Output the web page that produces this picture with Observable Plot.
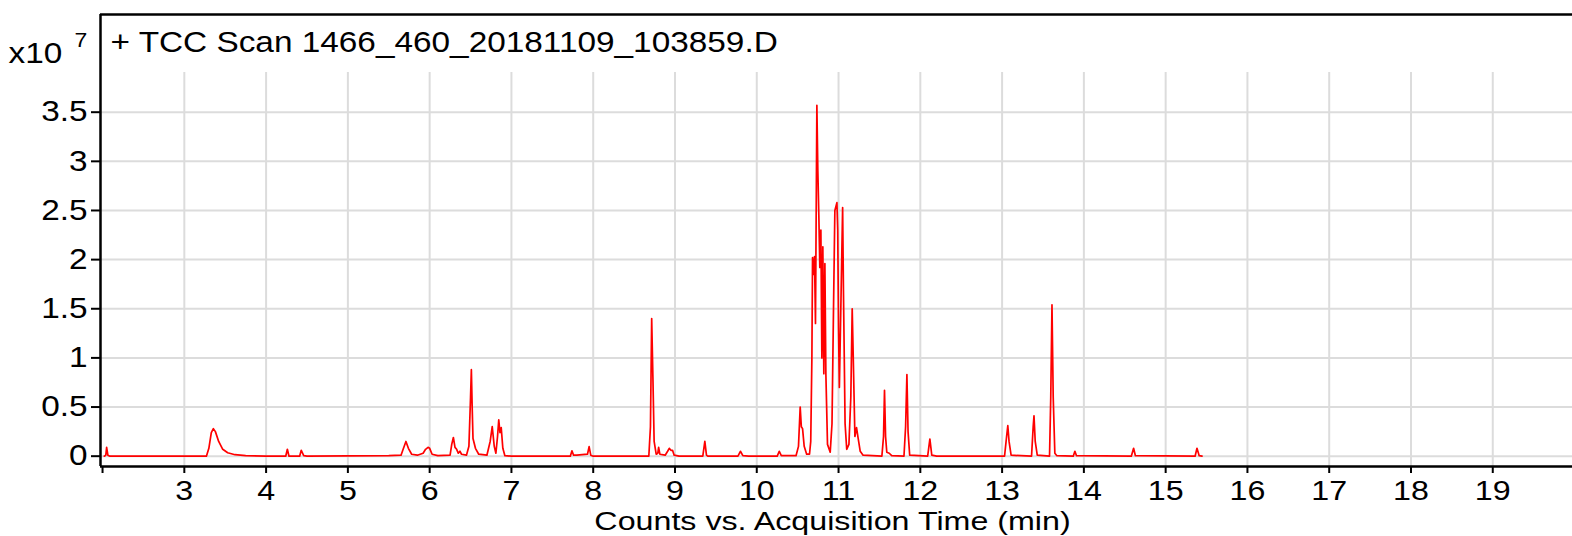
<!DOCTYPE html>
<html><head><meta charset="utf-8">
<script src="https://cdn.jsdelivr.net/npm/d3@7"></script>
<script src="https://cdn.jsdelivr.net/npm/@observablehq/plot@0.6"></script>
<style>
html,body{margin:0;padding:0;background:#fff;overflow:hidden;}
#chart{width:1572px;height:536px;overflow:hidden;}
#chart svg{max-width:none !important;}
</style></head><body><div id="chart"></div>
<script>
const title = "+ TCC Scan 1466_460_20181109_103859.D";
const yScaleLabel = "x10";
const yScaleExp = "7";
const xLabel = "Counts vs. Acquisition Time (min)";
const xTicks = [2,3,4,5,6,7,8,9,10,11,12,13,14,15,16,17,18,19];
const yTicks = [0,0.5,1,1.5,2,2.5,3,3.5];
const xDomain = [1.975, 19.975];
const yDomain = [-0.105, 4.494];

// retention time (min)
const time = [
 2.02,2.04,2.05,2.065,2.09,
 3.27,3.30,3.33,3.355,3.38,3.42,3.47,3.53,3.62,3.75,4.0,
 4.24,4.26,4.28,4.41,4.43,4.46,4.5,
 5.5,5.65,5.68,5.71,5.74,5.78,5.85,5.92,5.95,5.98,6.0,6.03,6.1,
 6.25,6.27,6.29,6.31,6.33,6.35,6.37,6.39,6.45,6.48,6.50,6.51,6.52,6.53,6.56,6.6,
 6.7,6.74,6.765,6.79,6.81,6.83,6.845,6.86,6.875,6.895,6.92,7.0,
 7.72,7.74,7.76,7.8,7.93,7.95,7.97,8.0,
 8.68,8.70,8.715,8.73,8.745,8.77,8.79,8.80,8.815,8.88,8.91,8.93,8.95,8.97,8.99,9.05,
 9.34,9.365,9.385,9.4,9.77,9.8,9.83,9.9,10.25,10.275,10.3,
 10.48,10.51,10.531,10.545,10.56,10.58,10.61,10.645,10.66,10.674,10.682,10.694,10.706,10.718,
 10.735,10.747,10.759,10.771,10.784,10.796,10.808,10.820,10.833,10.845,10.865,10.898,
 10.92,10.94,10.955,10.98,10.99,11.0,11.01,11.03,11.05,11.06,11.08,11.10,11.127,11.15,11.167,
 11.18,11.2,11.22,11.24,11.265,11.3,
 11.53,11.55,11.562,11.575,11.59,11.62,11.65,
 11.80,11.82,11.836,11.85,11.87,
 12.09,12.117,12.14,12.2,
 13.03,13.055,13.07,13.085,13.11,
 13.36,13.38,13.39,13.405,13.43,
 13.58,13.595,13.61,13.625,13.645,13.67,
 13.87,13.89,13.91,
 14.58,14.608,14.63,
 15.36,15.383,15.41,15.445
];
// counts (x10^7)
const counts = [
 0,0.01,0.09,0.01,0,
 0,0.08,0.24,0.28,0.25,0.15,0.07,0.035,0.015,0.005,0,
 0,0.07,0,0,0.06,0.005,0,
 0.005,0.01,0.08,0.15,0.08,0.02,0.01,0.03,0.07,0.09,0.08,0.02,0.005,
 0.01,0.12,0.19,0.09,0.07,0.03,0.05,0.02,0.01,0.1,0.6,0.88,0.5,0.18,0.08,0.02,
 0.01,0.15,0.30,0.1,0.03,0.2,0.37,0.24,0.29,0.08,0.005,0,
 0,0.055,0.01,0.01,0.02,0.097,0.01,0,
 0,0.3,1.4,0.8,0.15,0.02,0.03,0.09,0.02,0.01,0.05,0.08,0.06,0.06,0.01,0,
 0,0.15,0.01,0,0,0.05,0.005,0,0,0.05,0.005,
 0.005,0.1,0.5,0.3,0.28,0.1,0.02,0.02,0.15,1.0,2.02,1.85,2.03,1.35,
 3.57,2.9,2.45,1.92,2.30,1.0,2.13,0.84,1.96,0.84,0.12,0.04,
 0.33,1.6,2.5,2.58,2.3,1.3,0.7,1.6,2.53,1.68,0.33,0.07,0.12,0.6,1.5,
 1.0,0.2,0.29,0.18,0.05,0.01,
 0,0.2,0.67,0.2,0.04,0.03,0.005,
 0,0.3,0.83,0.25,0.01,
 0,0.175,0.01,0,
 0,0.2,0.31,0.15,0.01,
 0,0.3,0.41,0.15,0.01,
 0,0.6,1.54,0.6,0.03,0.005,
 0,0.05,0.005,
 0,0.08,0.005,
 0,0.08,0.005,0
];

const data = time.map((t, i) => ({t, c: counts[i]}));
const gridX = xTicks.filter(d => d > 2);

const plot = Plot.plot({
  width: 1572, height: 536,
  marginLeft: 100, marginRight: 0, marginTop: 14, marginBottom: 70,
  style: {fontFamily: "'Liberation Sans', Arial, sans-serif", fontSize: "29px", color: "#000", background: "#fff", overflow: "visible", maxWidth: "none"},
  x: {domain: xDomain},
  y: {domain: yDomain},
  marks: [
    Plot.ruleY(yTicks, {stroke: "#dcdcdc", strokeWidth: 2}),
    Plot.ruleX(gridX, {stroke: "#dcdcdc", strokeWidth: 2, insetTop: 58}),
    Plot.line(data, {x: "t", y: "c", stroke: "#ff0000", strokeWidth: 1.7}),
    // open frame: left, top and bottom edges only
    Plot.ruleX([xDomain[0]], {stroke: "#000", strokeWidth: 2.5}),
    Plot.ruleY(yDomain, {stroke: "#000", strokeWidth: 2.5}),
    Plot.axisY({ticks: yTicks, tickSize: 9, tickPadding: 4, strokeWidth: 2, label: null, fontSize: 29,
      tickFormat: d => String(d)}),
    Plot.axisX({ticks: xTicks, tickSize: 7, tickPadding: 7, strokeWidth: 2, label: null, fontSize: 28,
      tickFormat: d => d === 2 ? "" : String(d)}),
    Plot.text([title], {frameAnchor: "top-left", dx: 10, dy: 37.7, lineAnchor: "bottom", textAnchor: "start", fontSize: 29}),
    Plot.text([yScaleLabel], {frameAnchor: "top-left", dx: -92, dy: 48.7, lineAnchor: "bottom", textAnchor: "start", fontSize: 29}),
    Plot.text([yScaleExp], {frameAnchor: "top-left", dx: -26, dy: 32.7, lineAnchor: "bottom", textAnchor: "start", fontSize: 20}),
    Plot.text([xLabel], {frameAnchor: "bottom", dx: -4, dy: 55, lineAnchor: "middle", fontSize: 26, className: "xlabel"})
  ]
});

// widen glyphs horizontally like the reference rendering
d3.select(plot).selectAll("text").each(function() {
  const t = this.getAttribute("transform") || "";
  const k = this.closest(".xlabel") ? 1.24 : 1.15;
  this.setAttribute("transform", t + ` scale(${k},1)`);
});

document.getElementById("chart").appendChild(plot);
</script></body></html>
